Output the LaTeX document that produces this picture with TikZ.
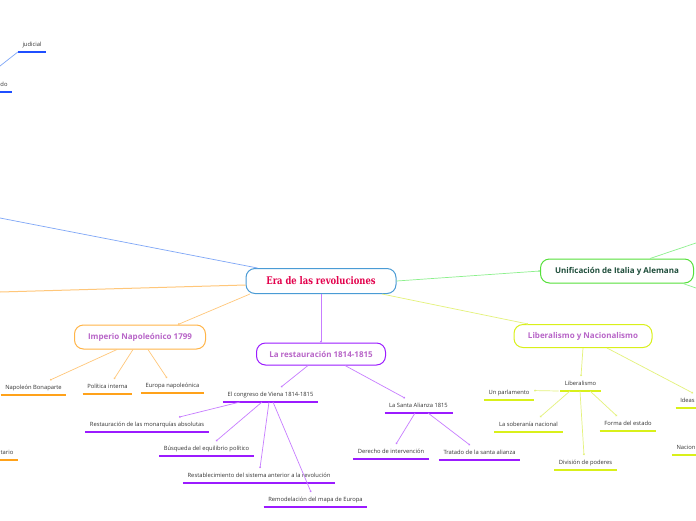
\documentclass[tikz,border=0pt]{standalone}
\usepackage{fontspec}
\setmainfont{Open Sans}
\newfontfamily\erafont[FakeStretch=0.8]{DejaVu Serif}
\usetikzlibrary{arrows.meta, positioning}

\definecolor{erared}{HTML}{E3004C}
\definecolor{erablue}{HTML}{4A9BD5}
\definecolor{headtxt}{HTML}{B865C8}
\definecolor{unitxt}{HTML}{1E4D3A}
\definecolor{leaftxt}{HTML}{333333}
\definecolor{lblue}{HTML}{7FA7F7}
\definecolor{ublue}{HTML}{1F4FFF}
\definecolor{lorange}{HTML}{FFC77A}
\definecolor{uorange}{HTML}{FFA21A}
\definecolor{lpurple}{HTML}{C77DFF}
\definecolor{upurple}{HTML}{9B1BFF}
\definecolor{llime}{HTML}{E4F27A}
\definecolor{ulime}{HTML}{D9F01A}
\definecolor{lgreen}{HTML}{8CF08C}
\definecolor{ugreen}{HTML}{55E03A}

\begin{document}
\begin{tikzpicture}[x=1pt, y=-1pt,
  topic/.style={draw, rounded corners=9pt, line width=1pt, fill=white,
    font=\fontsize{8}{9}\selectfont\bfseries, text=headtxt},
  leaf/.style={anchor=south, inner xsep=4.5pt, inner ysep=4pt, text height=5pt,
    text depth=1.5pt, font=\fontsize{5.8}{7}\selectfont, text=leaftxt},
  link/.style={line width=0.7pt, -{Circle[length=1.8pt]}},
  plain/.style={line width=0.7pt}]
  \useasboundingbox (0,0) rectangle (696,520);
  \fill[white] (0,0) rectangle (696,520);

  % Main topics
  \node[topic, draw=erablue, minimum width=150pt, minimum height=25pt,
    font=\erafont\fontsize{10.5}{12}\selectfont\bfseries, text=erared] (era) at (321,281) {Era de las revoluciones};
  \node[topic, draw=uorange!80, minimum width=131pt, minimum height=24pt] (imp) at (140,337) {Imperio Napoleónico 1799};
  \node[topic, draw=upurple, minimum width=129pt, minimum height=22pt] (res) at (321,354) {La restauración 1814-1815};
  \node[topic, draw=ulime, minimum width=138pt, minimum height=23pt] (lyn) at (583,336) {Liberalismo y Nacionalismo};
  \node[topic, draw=ugreen, minimum width=153pt, minimum height=24pt, text=unitxt] (uni) at (617,271) {Unificación de Italia y Alemana};

  % Leaves
  \node[leaf] (jud) at (32,52) {judicial};
  \node[leaf] (do) at (4,92) {do};
  \node[leaf] (nb) at (33.5,395) {Napoleón Bonaparte};
  \node[leaf] (pi) at (107.5,394) {Política interna};
  \node[leaf] (en) at (172.5,393) {Europa napoleónica};
  \node[leaf] (ta) at (7,460) {tario};
  \node[leaf] (cv) at (270.5,402) {El congreso de Viena 1814-1815};
  \node[leaf] (sa) at (418.5,413) {La Santa Alianza 1815};
  \node[leaf] (rm) at (147,432) {Restauración de las monarquías absolutas};
  \node[leaf] (be) at (206.5,456) {Búsqueda del equilibrio político};
  \node[leaf] (rs) at (259,483) {Restablecimiento del sistema anterior a la revolución};
  \node[leaf] (rme) at (315.5,507) {Remodelación del mapa de Europa};
  \node[leaf] (di) at (391,459) {Derecho de intervención};
  \node[leaf] (ts) at (479.5,460) {Tratado de la santa alianza};
  \node[leaf] (lib) at (580.5,391) {Liberalismo};
  \node[leaf] (up) at (509,400) {Un parlamento};
  \node[leaf] (sn) at (528.5,432) {La soberanía nacional};
  \node[leaf] (fe) at (628,431) {Forma del estado};
  \node[leaf] (dp) at (585.5,470) {División de poderes};
  \node[leaf] (id) at (687.5,408) {Ideas};
  \node[leaf] (na) at (686,455) {Nacion};

  % Underlines
  \foreach \n/\c in {jud/ublue, do/ublue, nb/uorange, pi/uorange, en/uorange,
      ta/uorange, cv/upurple, sa/upurple, rm/upurple, be/upurple, rs/upurple,
      rme/upurple, di/upurple, ts/upurple, lib/ulime, up/ulime, sn/ulime,
      fe/ulime, dp/ulime, id/ulime, na/ulime}
    \draw[\c, line width=1.2pt] (\n.south west) -- (\n.south east);

  % Free ends at the border
  \coordinate (bl) at (0,218);
  \coordinate (ol) at (0,292);
  \coordinate (jl) at (0,66);
  \coordinate (ut) at (696,243);
  \coordinate (ub) at (696,288);

  % Connectors
  \draw[plain, lblue] (bl) -- ([xshift=12pt]era.north west);
  \draw[plain, lblue] (jl) -- (jud.south west);
  \draw[plain, lorange, line width=1pt] (ol) -- ([yshift=-4pt]era.west);
  \draw[link, lorange] ([xshift=-71pt]era.south) -- ([xshift=38pt]imp.north);
  \draw[link, lorange] ([xshift=-23pt]imp.south) -- ([xshift=16.5pt]nb.north);
  \draw[link, lorange] ([xshift=-7pt]imp.south) -- ([xshift=6.5pt]pi.north);
  \draw[link, lorange] ([xshift=8pt]imp.south) -- ([xshift=-5.5pt]en.north);
  \draw[link, lpurple] (era.south) -- (res.north);
  \draw[link, lpurple] ([xshift=-13pt]res.south) -- ([xshift=10.5pt]cv.north);
  \draw[link, lpurple] ([xshift=24pt]res.south) -- ([xshift=-13.5pt]sa.north);
  \draw[link, lpurple] ([xshift=-30.5pt]cv.south) -- ([xshift=32pt]rm.north);
  \draw[link, lpurple] ([xshift=-8.5pt]cv.south) -- ([xshift=9.5pt]be.north);
  \draw[link, lpurple] ([xshift=-1.5pt]cv.south) -- ([xshift=1pt]rs.north);
  \draw[link, lpurple] ([xshift=2.5pt]cv.south) -- ([xshift=-4.5pt]rme.north);
  \draw[link, lpurple] ([xshift=-3.5pt]sa.south) -- ([xshift=5pt]di.north);
  \draw[link, lpurple] ([xshift=9.5pt]sa.south) -- ([xshift=-9.5pt]ts.north);
  \draw[link, llime] ([xshift=61pt]era.south) -- ([xshift=-55pt]lyn.north);
  \draw[link, llime] (lyn.south) -- ([xshift=0.5pt]lib.north);
  \draw[link, llime] ([xshift=24pt]lyn.south) -- ([xshift=5.5pt]id.north);
  \draw[link, llime] ([xshift=-22pt]lib.south) -- ([yshift=2pt]up.east);
  \draw[link, llime] ([xshift=-10.5pt]lib.south) -- ([xshift=11.5pt]sn.north);
  \draw[link, llime] ([xshift=9.5pt]lib.south) -- ([xshift=-11pt]fe.north);
  \draw[link, llime] ([xshift=-0.5pt]lib.south) -- ([xshift=-1.5pt]dp.north);
  \draw[link, lgreen] (era.east) -- (uni.west);
  \draw[plain, lgreen] ([xshift=33pt]uni.north) -- (ut);
  \draw[plain, lgreen] ([xshift=66pt]uni.south) -- (ub);
\end{tikzpicture}
\end{document}
